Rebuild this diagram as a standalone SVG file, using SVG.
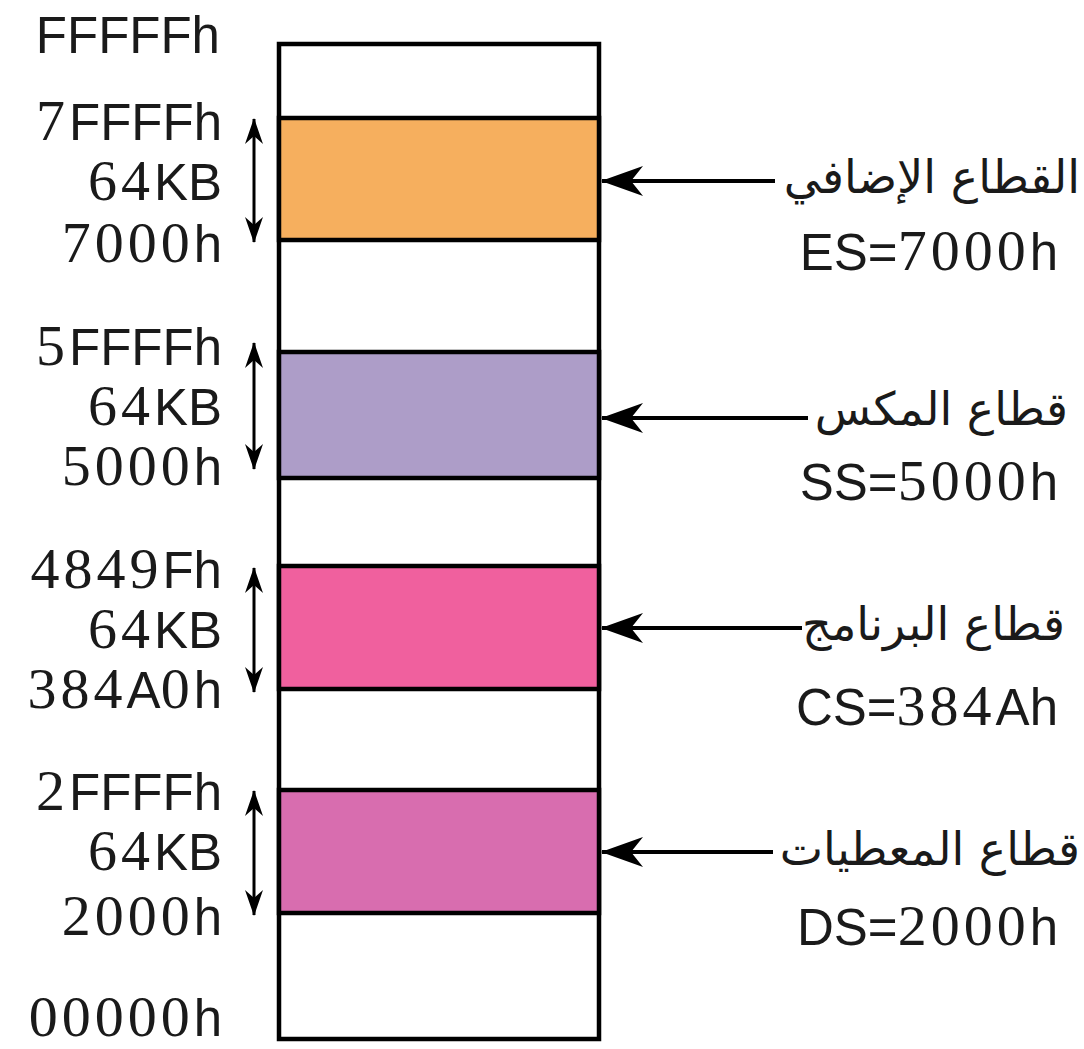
<svg xmlns="http://www.w3.org/2000/svg" width="1084" height="1049" viewBox="0 0 1084 1049">
<style>
.s{font-family:"Liberation Sans",Arial,sans-serif;font-size:51px;fill:#1a1a1a}
.d{font-family:"Liberation Serif","Times New Roman",serif;font-size:58px;letter-spacing:4px}
.ar{font-family:"DejaVu Sans","Noto Sans",sans-serif;font-size:46px;fill:#1a1a1a}
.seg{stroke:#000;stroke-width:4.5}
.ln{stroke:#000;stroke-width:4;fill:none}
.dl{stroke:#000;stroke-width:3;fill:none}
</style>
<defs>
<marker id="ah" viewBox="0 0 26 18" refX="25" refY="9" markerWidth="26" markerHeight="18" markerUnits="userSpaceOnUse" orient="auto-start-reverse">
<path d="M26,9 L0,0 L8,9 L0,18 Z" fill="#000"/>
</marker>
<marker id="big" viewBox="0 0 42 30" refX="41" refY="15" markerWidth="42" markerHeight="30" markerUnits="userSpaceOnUse" orient="auto">
<path d="M42,15 L0,0 L12,15 L0,30 Z" fill="#000"/>
</marker>
</defs>
<rect width="1084" height="1049" fill="#fff"/>
<g id="memory">
<rect x="279" y="44" width="320" height="995" fill="#fff" class="seg"/>
</g>
<g id="seg-es"><rect x="279" y="118" width="320" height="122" fill="#F6AF5E" class="seg"/></g>
<g id="seg-ss"><rect x="279" y="352" width="320" height="126" fill="#AD9DC8" class="seg"/></g>
<g id="seg-cs"><rect x="279" y="566" width="320" height="123" fill="#F0609E" class="seg"/></g>
<g id="seg-ds"><rect x="279" y="790" width="320" height="123" fill="#D86DAF" class="seg"/></g>
<g id="connectors">
<line class="dl" x1="254" y1="119" x2="254" y2="242" marker-start="url(#ah)" marker-end="url(#ah)"/>
<line class="dl" x1="254" y1="343" x2="254" y2="469" marker-start="url(#ah)" marker-end="url(#ah)"/>
<line class="dl" x1="254" y1="568" x2="254" y2="692" marker-start="url(#ah)" marker-end="url(#ah)"/>
<line class="dl" x1="254" y1="791" x2="254" y2="915" marker-start="url(#ah)" marker-end="url(#ah)"/>
<line class="ln" x1="775" y1="181" x2="602" y2="181" marker-end="url(#big)"/>
<line class="ln" x1="808" y1="418" x2="602" y2="418" marker-end="url(#big)"/>
<line class="ln" x1="802" y1="628" x2="602" y2="628" marker-end="url(#big)"/>
<line class="ln" x1="773" y1="852" x2="602" y2="852" marker-end="url(#big)"/>
</g>
<g id="left-labels" text-anchor="end">
<text class="s" x="220" y="53">FFFFFh</text>
<text class="s" x="222" y="140"><tspan class="d">7</tspan>FFFFh</text>
<text class="s" x="222" y="200"><tspan class="d">64</tspan>KB</text>
<text class="s" x="222" y="262"><tspan class="d">7000</tspan>h</text>
<text class="s" x="222" y="365"><tspan class="d">5</tspan>FFFFh</text>
<text class="s" x="222" y="425"><tspan class="d">64</tspan>KB</text>
<text class="s" x="222" y="485"><tspan class="d">5000</tspan>h</text>
<text class="s" x="222" y="588"><tspan class="d">4849</tspan>Fh</text>
<text class="s" x="222" y="648"><tspan class="d">64</tspan>KB</text>
<text class="s" x="222" y="708"><tspan class="d">384</tspan>A<tspan class="d">0</tspan>h</text>
<text class="s" x="222" y="810"><tspan class="d">2</tspan>FFFFh</text>
<text class="s" x="222" y="870"><tspan class="d">64</tspan>KB</text>
<text class="s" x="222" y="935"><tspan class="d">2000</tspan>h</text>
<text class="s" x="222" y="1036"><tspan class="d">00000</tspan>h</text>
</g>
<g id="right-labels" text-anchor="end">
<text class="ar" x="1080" y="193" direction="rtl" text-anchor="start">القطاع الإضافي</text>
<text class="s" x="1058" y="270">ES=<tspan class="d">7000</tspan>h</text>
<text class="ar" x="1068" y="425" direction="rtl" text-anchor="start">قطاع المكس</text>
<text class="s" x="1058" y="500">SS=<tspan class="d">5000</tspan>h</text>
<text class="ar" x="1065" y="640" direction="rtl" text-anchor="start">قطاع البرنامج</text>
<text class="s" x="1058" y="725">CS=<tspan class="d">384</tspan>Ah</text>
<text class="ar" x="1080" y="865" direction="rtl" text-anchor="start">قطاع المعطيات</text>
<text class="s" x="1058" y="945">DS=<tspan class="d">2000</tspan>h</text>
</g>
</svg>
